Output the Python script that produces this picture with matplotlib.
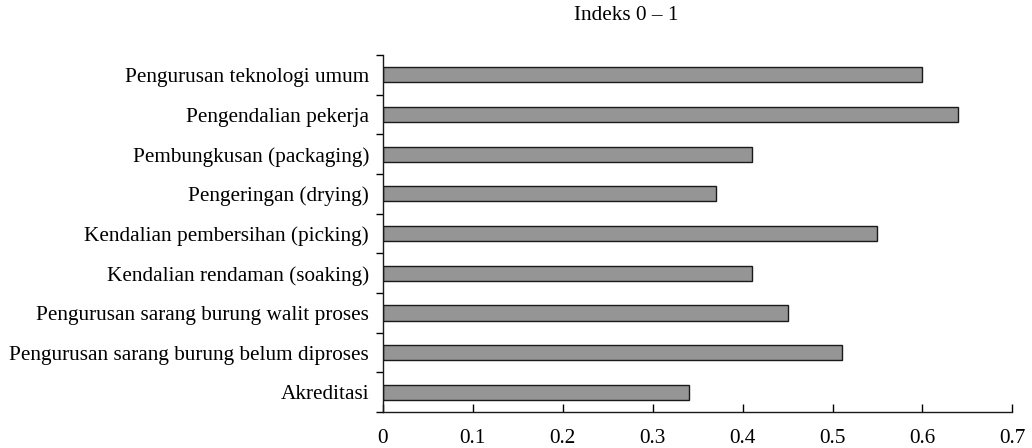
import numpy as np
import matplotlib.pyplot as plt

plt.rcParams['font.family'] = ['Liberation Serif', 'DejaVu Serif']

categories = [
    'Pengurusan teknologi umum',
    'Pengendalian pekerja',
    'Pembungkusan (packaging)',
    'Pengeringan (drying)',
    'Kendalian pembersihan (picking)',
    'Kendalian rendaman (soaking)',
    'Pengurusan sarang burung walit proses',
    'Pengurusan sarang burung belum diproses',
    'Akreditasi',
]
values = [0.60, 0.64, 0.41, 0.37, 0.55, 0.41, 0.45, 0.51, 0.34]
xticks = [0, 0.1, 0.2, 0.3, 0.4, 0.5, 0.6, 0.7]

fig = plt.figure(figsize=(10.32, 4.48), dpi=100)
ax = fig.add_axes([0.371, 0.080, 0.610, 0.797])

y = np.arange(len(categories))
ax.barh(y, values, height=0.38, color='#959595', edgecolor='#1a1a1a', linewidth=1.0)

ax.set_xlim(0, 0.7)
ax.set_ylim(len(categories) - 0.5, -0.5)
ax.set_xticks(xticks)
ax.set_xticklabels([f'{t:g}' for t in xticks], fontsize=15.3)
ax.tick_params(axis='x', direction='in', length=6, width=1, pad=12)

# category labels without ticks, ticks at the boundaries
ax.set_yticks(y)
ax.set_yticklabels(categories, fontsize=15.3)
ax.tick_params(axis='y', which='major', length=0, pad=10)
ax.set_yticks(np.arange(len(categories) + 1) - 0.5, minor=True)
ax.tick_params(axis='y', which='minor', direction='out', length=5, width=1)

for s in ['top', 'right']:
    ax.spines[s].set_visible(False)
for s in ['left', 'bottom']:
    ax.spines[s].set_linewidth(1)
    ax.spines[s].set_color('#1a1a1a')

fig.text(0.607, 0.965, 'Indeks 0 – 1', ha='center', va='center', fontsize=15.3)

fig.savefig('out.png', dpi=100)
